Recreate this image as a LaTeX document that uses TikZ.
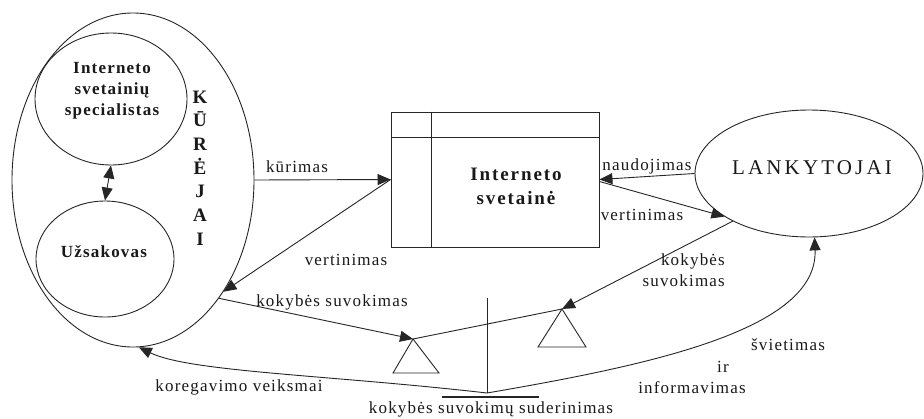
\documentclass[tikz,border=0pt]{standalone}
\usepackage{fontspec}
\setmainfont{Liberation Serif}[LetterSpace=7]
\usetikzlibrary{shapes.geometric,arrows.meta}
\begin{document}
\begin{tikzpicture}[x=1pt,y=-1pt,
  ln/.style={draw=black!85, line width=0.9pt},
  tip/.tip={Triangle[length=13pt,width=11pt]},
  arr/.style={ln, -tip},
  darr/.style={ln, tip-tip},
  lbl/.style={font=\fontsize{17}{21}\selectfont, inner sep=0pt, text=black!90},
  boldtxt/.style={font=\fontsize{17}{21}\selectfont\bfseries, align=center, inner sep=0pt, text=black!90},
  ell/.style={ellipse, draw=black!85, line width=0.9pt, inner sep=0pt},
]
\useasboundingbox (0,0) rectangle (924,418);
\fill[white] (0,0) rectangle (924,418);

% KURĖJAI group
\node[ell, minimum width=242pt, minimum height=334pt] (kur) at (133,180) {};
\node[ell, minimum width=152pt, minimum height=132pt] (spec) at (111,99) {};
\node[boldtxt] (spect) at (112,91) {Interneto\\svetainių\\specialistas};
\node[ell, minimum width=138pt, minimum height=116pt] (uzs) at (105,259) {};
\node[boldtxt] (uzst) at (104,252) {Užsakovas};
\node[font=\fontsize{19}{23.7}\selectfont\bfseries, align=center, inner sep=0pt, text=black!90] (kurt) at (200,168) {K\\Ū\\R\\Ė\\J\\A\\I};
\draw[darr] (spec.south) -- (uzs.north);

% site
\node[draw=black!85, line width=0.9pt, minimum width=208pt, minimum height=135pt, inner sep=0pt] (site) at (495,179.5) {};
\draw[ln] ([xshift=41pt]site.north west) -- ([xshift=41pt]site.south west);
\draw[ln] ([yshift=-26pt]site.north west) -- ([yshift=-26pt]site.north east);
\node[font=\fontsize{19}{24}\selectfont\bfseries\addfontfeature{LetterSpace=10}, align=center, inner sep=0pt, text=black!90] (sitet) at (516,186) {Interneto\\svetainė};

% visitors
\node[ell, minimum width=228pt, minimum height=127pt] (lank) at (809,173.5) {};
\node[font=\fontsize{21}{24}\selectfont\addfontfeature{LetterSpace=15}, inner sep=0pt, text=black!90] (lankt) at (812,168) {LANKYTOJAI};

% balance
\coordinate (lt) at (413,339);
\coordinate (rt) at (562,309);
\coordinate (ptop) at (487,298);
\coordinate (pbot) at (487,393);
\coordinate (bl) at (442,397);
\coordinate (br) at (539,397);
\draw[ln] (lt) -- ++(-20,34) -- ++(46,0) -- cycle;
\draw[ln] (rt) -- ++(-24,38) -- ++(48,0) -- cycle;
\draw[ln] (lt) -- (rt);
\draw[ln] (ptop) -- (pbot);
\draw[black!85, line width=2.8pt] (bl) -- (br);

% connectors
\draw[arr] (kur.east) -- (site.west);
\draw[arr] (site.west) -- (kur.-51);
\draw[arr] (kur.-54) -- (lt);
\draw[arr] (lank.west) -- (site.east);
\draw[arr] ([yshift=-2pt]site.east) -- (lank.-153);
\draw[arr] (lank.-148) -- (rt);
\draw[arr] (pbot) .. controls (330,375) and (190,372) .. (kur.-88);
\draw[arr] (pbot) .. controls (650,365) and (818,330) .. (lank.-85);

% labels
\node[lbl] (l1) at (297,167) {kūrimas};
\node[lbl] (l2) at (346,260) {vertinimas};
\node[lbl] (l3) at (332,302) {kokybės suvokimas};
\node[lbl] (l4) at (647,166) {naudojimas};
\node[lbl] (l5) at (642,215) {vertinimas};
\node[lbl, align=right, anchor=east] (l6) at (725,270) {kokybės\\suvokimas};
\node[lbl] (l7) at (788,345) {švietimas};
\node[lbl] (l8) at (723,367) {ir};
\node[lbl] (l9) at (692,388) {informavimas};
\node[lbl] (l10) at (239,387) {koregavimo veiksmai};
\node[lbl] (l11) at (491,409) {kokybės suvokimų suderinimas};
\end{tikzpicture}
\end{document}
